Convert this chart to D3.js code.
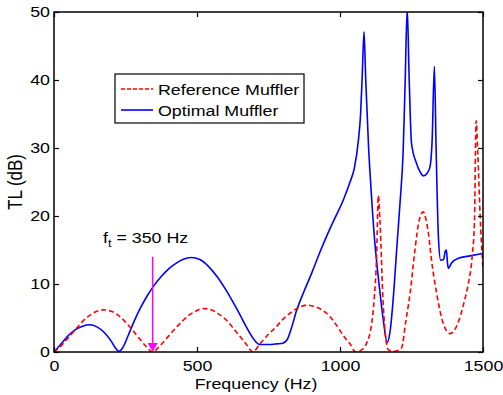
<!DOCTYPE html>
<html>
<head>
<script src="https://d3js.org/d3.v7.min.js"></script>
<style>
  body { margin: 0; background: #ffffff; }
  svg { display: block; background: #ffffff; }
  text { font-family: "Liberation Sans", Arial, Helvetica, sans-serif; fill: #000; }
  .curve { fill: none; stroke-width: 1.6px; }
</style>
</head>
<body>
<div id="container"></div>
<script>
// reference muffler (red dashed)
var refFreq = [0, 25, 50, 75, 100, 125, 150, 170, 200, 225, 250, 275, 300, 325, 345,
  370, 400, 425, 450, 475, 500, 520, 550, 575, 600, 625, 650, 675, 695,
  720, 750, 779, 800, 825, 850, 884, 910, 940, 965, 990, 1012, 1035, 1055,
  1075, 1093, 1110, 1120, 1128, 1134, 1140, 1150, 1160, 1170, 1190, 1215,
  1230, 1245, 1262, 1277, 1291, 1300, 1309, 1320, 1338, 1361, 1385, 1400, 1420,
  1435, 1449, 1462, 1470, 1476, 1482, 1490, 1500];
var refTL = [0, 0.9, 2.1, 3.3, 4.5, 5.4, 6.0, 6.2, 6.0, 5.4, 4.4, 3.2, 1.9, 0.7, 0,
  0.9, 2.3, 3.5, 4.6, 5.5, 6.1, 6.4, 6.2, 5.6, 4.8, 3.6, 2.3, 1.0, 0,
  1.2, 2.6, 3.8, 4.8, 5.7, 6.4, 6.9, 6.7, 6.1, 5.2, 3.8, 2.4, 1.2, 0,
  0.3, 1.3, 4.0, 8.0, 14.0, 23.0, 19.0, 8.0, 2.0, 0.3, 0.1, 0.6,
  4.5, 8.6, 15.0, 19.4, 20.6, 19.6, 17.5, 13.5, 8.6, 4.2, 2.7, 3.2, 5.2,
  7.5, 10.1, 14.0, 19.0, 34.0, 29.0, 20.0, 12.3];

// optimal muffler (blue solid)
var optFreq = [0, 25, 50, 75, 100, 125, 150, 175, 200, 215, 228, 240, 260, 280, 300,
  325, 350, 375, 400, 425, 450, 480, 510, 540, 570, 600, 625, 650, 675, 700,
  720, 750, 780, 800, 815, 830, 849, 875, 901, 925, 953, 980, 1012, 1035, 1050,
  1064, 1072, 1078, 1084, 1090, 1100, 1107, 1120, 1130, 1140, 1152, 1165, 1175,
  1190, 1198, 1210, 1221, 1228, 1235, 1242, 1250, 1268, 1280, 1291, 1305, 1315,
  1322, 1330, 1336, 1344, 1352, 1362, 1368, 1372, 1376, 1379, 1390, 1414, 1450, 1500];
var optTL = [0, 1.2, 2.4, 3.3, 3.8, 4.0, 3.7, 2.9, 1.6, 0.6, 0.1, 0.6, 2.5, 4.5, 6.3,
  8.2, 9.8, 11.1, 12.2, 13.0, 13.6, 13.9, 13.6, 12.6, 11.1, 9.2, 7.4, 5.5, 3.5, 1.8,
  1.1, 1.1, 1.2, 1.3, 1.8, 3.5, 6.2, 9.0, 11.6, 14.2, 17.0, 19.5, 22.4, 25.0, 27.0,
  31.0, 35.0, 41.0, 47.1, 40.0, 30.0, 25.0, 17.0, 12.5, 8.7, 4.5, 1.4, 3.0,
  10.0, 15.0, 22.0, 29.7, 40.0, 50.5, 40.0, 30.7, 27.7, 26.5, 25.9, 26.3, 27.3,
  31.0, 42.0, 30.0, 17.0, 13.5, 13.6, 14.8, 15.0, 13.0, 12.3, 13.1, 13.8, 14.1, 14.5];

var xTicks = [0, 500, 1000, 1500];
var yTicks = [0, 10, 20, 30, 40, 50];
var seriesNames = ["Reference Muffler", "Optimal Muffler"];
var seriesColors = ["#ff0000", "#0000ff"];
var arrowFreq = 345, arrowTop = 14;
var annotation = ["f", "t", " = 350 Hz"];

var W = 503, H = 395;
var margin = { top: 12, right: 20, bottom: 43, left: 54 };
var stretch = 1.15; // text in the picture is a bit wide

var x = d3.scaleLinear().domain([0, 1500]).range([margin.left, W - margin.right]);
var y = d3.scaleLinear().domain([0, 50]).range([H - margin.bottom, margin.top]);

var svg = d3.select("#container").append("svg")
  .attr("width", W)
  .attr("height", H);

svg.append("defs").append("clipPath").attr("id", "plotclip")
  .append("rect")
  .attr("x", x(0)).attr("y", y(50))
  .attr("width", x(1500) - x(0)).attr("height", y(0) - y(50));

// curves
var refData = refFreq.map(function(f, i) { return [f, refTL[i]]; });
var optData = optFreq.map(function(f, i) { return [f, optTL[i]]; });

var line = d3.line()
  .x(function(d) { return x(d[0]); })
  .y(function(d) { return y(d[1]); })
  .curve(d3.curveMonotoneX);

var plot = svg.append("g").attr("clip-path", "url(#plotclip)");

plot.append("path").datum(optData)
  .attr("class", "curve")
  .attr("stroke", seriesColors[1])
  .attr("d", line);

plot.append("path").datum(refData)
  .attr("class", "curve")
  .attr("stroke", seriesColors[0])
  .attr("stroke-dasharray", "5,3")
  .attr("d", line);

// arrow
var ax = x(arrowFreq);
svg.append("line")
  .attr("x1", ax).attr("x2", ax)
  .attr("y1", y(arrowTop)).attr("y2", y(0) - 8)
  .attr("stroke", "#ff00ff").attr("stroke-width", 1.5);
svg.append("path")
  .attr("d", "M" + (ax - 5) + "," + (y(0) - 9) + "L" + (ax + 5) + "," + (y(0) - 9) + "L" + ax + "," + y(0) + "Z")
  .attr("fill", "#ff00ff");

// axes box
svg.append("rect")
  .attr("x", x(0)).attr("y", y(50))
  .attr("width", x(1500) - x(0)).attr("height", y(0) - y(50))
  .attr("fill", "none").attr("stroke", "#000").attr("stroke-width", 1.5);

var fs = 15.5;

var xAxis = svg.append("g")
  .attr("transform", "translate(0," + y(0) + ")")
  .call(d3.axisBottom(x).tickValues(xTicks).tickFormat(d3.format("d")).tickSize(-5).tickPadding(7.5));
var yAxis = svg.append("g")
  .attr("transform", "translate(" + x(0) + ",0)")
  .call(d3.axisLeft(y).tickValues(yTicks).tickFormat(d3.format("d")).tickSize(-5).tickPadding(4));
var xTop = svg.append("g")
  .attr("transform", "translate(0," + y(50) + ")")
  .call(d3.axisTop(x).tickValues(xTicks).tickSize(-5).tickFormat(""));
var yRight = svg.append("g")
  .attr("transform", "translate(" + x(1500) + ",0)")
  .call(d3.axisRight(y).tickValues(yTicks).tickSize(-5).tickFormat(""));

[xAxis, yAxis, xTop, yRight].forEach(function(g) {
  g.select(".domain").remove();
  g.selectAll("line").attr("stroke", "#000").attr("stroke-width", 1.2);
  g.selectAll("text")
    .attr("fill", "#000")
    .style("font-family", "'Liberation Sans', Arial, sans-serif")
    .style("font-size", fs + "px");
});
xAxis.selectAll("text").attr("transform", "scale(" + stretch + ",1)");
yAxis.selectAll("text")
  .attr("x", -4 / stretch)
  .attr("transform", "scale(" + stretch + ",1)");

// axis labels
svg.append("text")
  .attr("transform", "translate(256,389) scale(" + stretch + ",1)")
  .attr("text-anchor", "middle")
  .style("font-size", fs + "px")
  .text("Frequency (Hz)");

svg.append("text")
  .attr("transform", "translate(22," + ((y(0) + y(50)) / 2) + ") rotate(-90) scale(1," + stretch + ")")
  .attr("text-anchor", "middle")
  .style("font-size", "17px")
  .text("TL (dB)");

// annotation
var ann = svg.append("text")
  .attr("transform", "translate(103,243) scale(" + stretch + ",1)")
  .style("font-size", fs + "px");
ann.append("tspan").text(annotation[0]);
ann.append("tspan").attr("dy", 4).style("font-size", "11px").text(annotation[1]);
ann.append("tspan").attr("dy", -4).text(annotation[2]);

// legend
var lg = svg.append("g");
lg.append("rect")
  .attr("x", 115).attr("y", 74)
  .attr("width", 189).attr("height", 49)
  .attr("fill", "#fff").attr("stroke", "#000").attr("stroke-width", 1.2);
seriesNames.forEach(function(name, i) {
  var ly = 89 + i * 21;
  lg.append("line")
    .attr("x1", 121).attr("x2", 153)
    .attr("y1", ly).attr("y2", ly)
    .attr("stroke", seriesColors[i])
    .attr("stroke-width", 1.6)
    .attr("stroke-dasharray", i === 0 ? "4,2" : null);
  lg.append("text")
    .attr("transform", "translate(158," + (ly + 6) + ") scale(" + stretch + ",1)")
    .style("font-size", fs + "px")
    .text(name);
});
</script>
</body>
</html>
